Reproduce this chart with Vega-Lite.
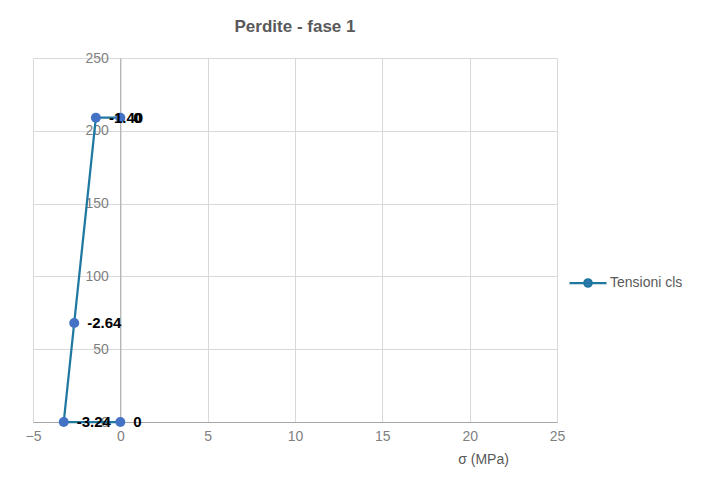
{
  "$schema": "https://vega.github.io/schema/vega-lite/v6.json",
  "width": 524,
  "height": 364,
  "autosize": "none",
  "padding": {"left": 33, "top": 58, "right": 170, "bottom": 72},
  "background": "white",
  "title": {"text": "Perdite - fase 1", "font": "Liberation Sans", "fontSize": 17, "fontWeight": "bold", "color": "#595959", "anchor": "middle", "offset": 15},
  "config": {
    "view": {"stroke": null},
    "font": "Liberation Sans",
    "axis": {"labelFont": "Liberation Sans", "labelColor": "#7F7F7F", "labelFontSize": 14, "gridColor": "#D9D9D9", "gridWidth": 1, "ticks": false, "domainColor": "#A6A6A6", "domainWidth": 1, "labelFlush": false}
  },
  "data": {"values": [
    {"ord": 1, "sigma": 0, "h": 0, "lab": "0", "series": "Tensioni cls"},
    {"ord": 2, "sigma": -3.24, "h": 0, "lab": "-3.24", "series": "Tensioni cls"},
    {"ord": 3, "sigma": -2.64, "h": 68, "lab": "-2.64", "series": "Tensioni cls"},
    {"ord": 4, "sigma": -1.40, "h": 209, "lab": "-1.40", "series": "Tensioni cls"},
    {"ord": 5, "sigma": 0, "h": 209, "lab": "0", "series": "Tensioni cls"}
  ]},
  "encoding": {
    "x": {"field": "sigma", "type": "quantitative", "scale": {"domain": [-5, 25], "nice": false, "zero": false},
      "axis": {"values": [-5, 0, 5, 10, 15, 20, 25], "title": "σ (MPa)", "titleFont": "Liberation Sans", "titleFontWeight": "normal", "titleFontSize": 14, "titleColor": "#595959", "titleX": 450, "titleY": 30, "titleAlign": "center", "labelPadding": 7}},
    "y": {"field": "h", "type": "quantitative", "scale": {"domain": [0, 250], "nice": false},
      "axis": {"values": [0, 50, 100, 150, 200, 250], "title": null, "offset": -87.33, "labelPadding": 12}}
  },
  "layer": [
    {
      "mark": {"type": "line", "strokeWidth": 2.25},
      "encoding": {
        "order": {"field": "ord", "type": "quantitative"},
        "color": {"field": "series", "type": "nominal", "scale": {"range": ["#1F78A0"]},
          "legend": {"title": null, "orient": "none", "legendX": 535, "legendY": 205, "symbolType": "M-1,0H1M-0.2,0a0.2,0.2 0 1,0 0.4,0a0.2,0.2 0 1,0 -0.4,0", "symbolSize": 1369, "symbolStrokeColor": "#1F78A0", "symbolFillColor": "#4472C4", "symbolStrokeWidth": 2.25, "labelFont": "Liberation Sans", "labelFontSize": 14, "labelColor": "#595959", "labelOffset": 2}}
      }
    },
    {
      "mark": {"type": "point", "filled": true, "size": 100, "color": "#4472C4", "opacity": 1}
    },
    {
      "mark": {"type": "text", "align": "left", "baseline": "middle", "dx": 13, "fontSize": 15, "fontWeight": "bold", "color": "#000000"},
      "encoding": {"text": {"field": "lab"}}
    }
  ]
}
